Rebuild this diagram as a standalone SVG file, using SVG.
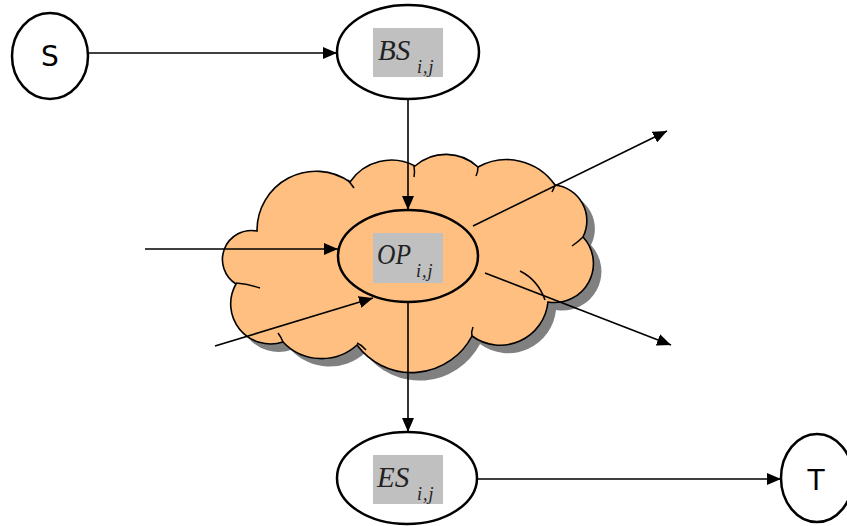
<svg xmlns="http://www.w3.org/2000/svg" width="847" height="526" viewBox="0 0 847 526">
<style>
.node{fill:#fff;stroke:#000;stroke-width:2.5}
.box{fill:#c0c0c0}
.math{font-family:"Liberation Serif",serif;font-style:italic;fill:#222}
.big{font-size:29px}
.sub{font-size:18px;letter-spacing:1px}
.letter{font-family:"DejaVu Sans",sans-serif;font-size:28px;fill:#000;text-anchor:middle}
.conn line{stroke:#000;stroke-width:1.6;marker-end:url(#ah)}
.inner{fill:none;stroke:#000;stroke-width:1.5}
</style>
<defs>
<marker id="ah" markerUnits="userSpaceOnUse" markerWidth="14" markerHeight="12" refX="14" refY="6" orient="auto">
<path d="M0,0 L14,6 L0,12 Z" fill="#000"/>
</marker>
<path id="cloudShape" d="M236,284 A29 29 0 0 1 257,231 A59 59 0 0 1 350,182 A50 50 0 0 1 415,166 A47 47 0 0 1 478,167 A59 59 0 0 1 555,185 A36 36 0 0 1 583,237 A39 39 0 0 1 548,302 A48 48 0 0 1 472,336 A68 68 0 0 1 357,345 A53 53 0 0 1 283,342 A40 40 0 0 1 236,284 Z"/>
</defs>

<g id="cloud">
<use href="#cloudShape" transform="translate(8,8)" fill="#808080"/>
<use href="#cloudShape" fill="#ffbf80" stroke="#000" stroke-width="1.6"/>
<path class="inner" d="M236,283 Q248,284 260,288"/>
<path class="inner" d="M348,180 Q351,184 354,188"/>
<path class="inner" d="M414,166 Q415,172 414,177"/>
<path class="inner" d="M478,167 Q478,172 476,176"/>
<path class="inner" d="M555,185 Q554,188 552,192"/>
<path class="inner" d="M583,237 Q578,242 572,246"/>
<path class="inner" d="M520,271 Q538,280 545,300"/>
<path class="inner" d="M472,336 Q471,332 473,327"/>
<path class="inner" d="M357,343 Q362,345 366,350"/>
<path class="inner" d="M283,342 Q281,337 278,333"/>
</g>

<g id="S">
<ellipse class="node" cx="50" cy="56" rx="38" ry="43"/>
<text class="letter" x="50" y="66">S</text>
</g>

<g id="BS">
<ellipse class="node" cx="408" cy="52" rx="71" ry="47"/>
<rect class="box" x="373" y="28" width="70" height="49"/>
<text class="math big" x="378" y="60">BS</text>
<text class="math sub" x="417" y="73">i,j</text>
</g>

<g id="OP">
<ellipse class="node" cx="408" cy="256" rx="70" ry="46" style="fill:#ffbf80"/>
<rect class="box" x="373" y="233" width="70" height="50"/>
<text class="math big" x="377" y="264" textLength="34" lengthAdjust="spacingAndGlyphs">OP</text>
<text class="math sub" x="416" y="277">i,j</text>
</g>

<g id="ES">
<ellipse class="node" cx="407" cy="478" rx="70" ry="46"/>
<rect class="box" x="373" y="455" width="70" height="49"/>
<text class="math big" x="377" y="487">ES</text>
<text class="math sub" x="417" y="500">i,j</text>
</g>

<g id="T">
<ellipse class="node" cx="817" cy="478" rx="36" ry="44"/>
<text class="letter" x="816" y="490">T</text>
</g>

<g id="connectors" class="conn">
<line x1="88" y1="53" x2="337" y2="53"/>
<line x1="408" y1="99" x2="408" y2="210"/>
<line x1="145" y1="249" x2="338" y2="249"/>
<line x1="215" y1="346" x2="373" y2="298"/>
<line x1="473" y1="226" x2="667" y2="131"/>
<line x1="485" y1="273" x2="671" y2="345"/>
<line x1="408" y1="302" x2="408" y2="432"/>
<line x1="477" y1="479" x2="781" y2="479"/>
</g>
</svg>
